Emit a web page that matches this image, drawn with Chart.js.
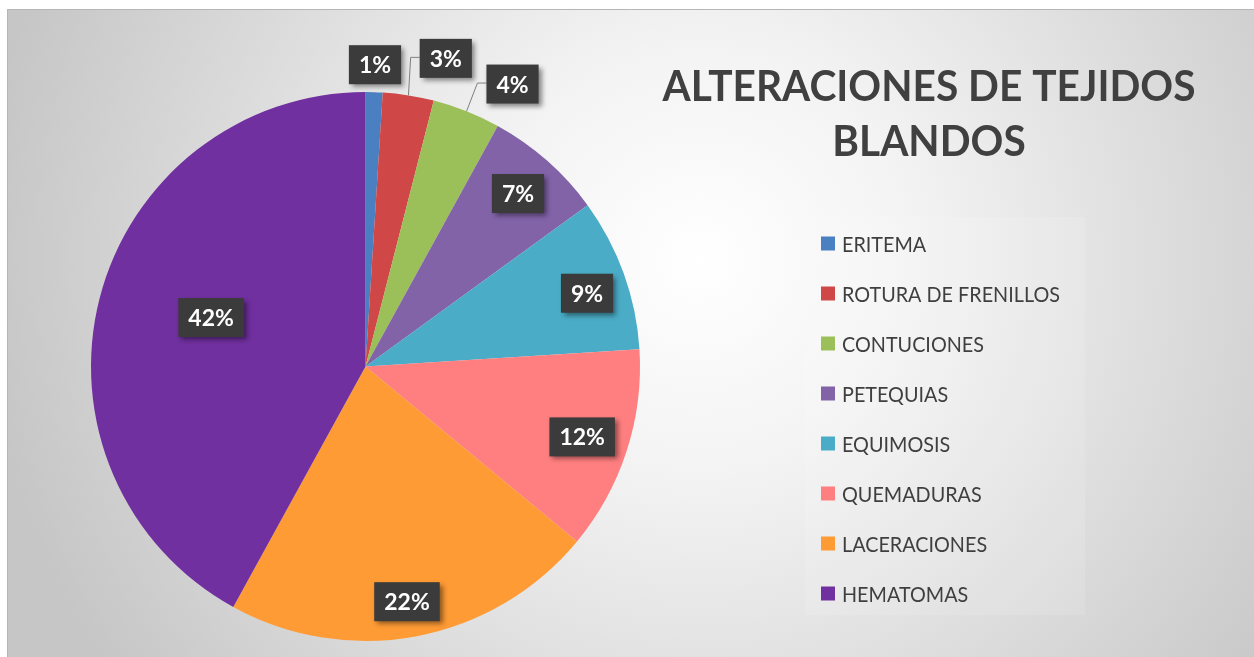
<!DOCTYPE html>
<html>
<head>
<meta charset="utf-8">
<script src="https://cdn.jsdelivr.net/npm/chart.js@4.4.1/dist/chart.umd.min.js"></script>
<style>
  html, body { margin: 0; padding: 0; background: #fff; }
  canvas { display: block; }
</style>
</head>
<body>
<canvas id="chart" width="1254" height="657"></canvas>
<script>
// data
const categories = ['ERITEMA', 'ROTURA DE FRENILLOS', 'CONTUCIONES', 'PETEQUIAS', 'EQUIMOSIS', 'QUEMADURAS', 'LACERACIONES', 'HEMATOMAS'];
const percentages = [1, 3, 4, 7, 9, 12, 22, 42];
const sliceColors = ['#4a7fc1', '#cf4747', '#9bbf59', '#8263a8', '#4aacc6', '#ff7f80', '#ff9b35', '#7030a0'];
const titleLines = ['ALTERACIONES DE TEJIDOS', 'BLANDOS'];

// scale a run of text horizontally so the reference width is matched
function drawSqueezed(ctx, text, x, y, sx, align) {
    ctx.save();
    ctx.translate(x, y);
    ctx.scale(sx, 1);
    ctx.textAlign = align;
    ctx.fillText(text, 0, 0);
    ctx.restore();
}

// Background panel
const backgroundPlugin = {
    id: 'panelBackground',
    beforeDraw(chart) {
        const ctx = chart.ctx;
        const w = chart.width, h = chart.height;
        ctx.save();
        ctx.fillStyle = '#ffffff';
        ctx.fillRect(0, 0, w, h);
        const g = ctx.createRadialGradient(700, 260, 0, 700, 260, 720);
        g.addColorStop(0, '#ffffff');
        g.addColorStop(0.3, '#f3f3f3');
        g.addColorStop(1, '#c6c6c6');
        ctx.fillStyle = g;
        ctx.fillRect(7, 9, w - 7, h - 9);
        ctx.strokeStyle = '#b5b5b5';
        ctx.lineWidth = 1;
        ctx.beginPath();
        ctx.moveTo(7.5, h);
        ctx.lineTo(7.5, 9.5);
        ctx.lineTo(w, 9.5);
        ctx.stroke();
        // faint legend panel
        ctx.fillStyle = 'rgba(255,255,255,0.12)';
        ctx.fillRect(805, 217, 280, 398);
        ctx.restore();
    }
};

// Title + legend
const titleLegendPlugin = {
    id: 'titleLegend',
    afterDraw(chart) {
        const ctx = chart.ctx;
        ctx.save();
        ctx.fillStyle = '#404040';
        ctx.textBaseline = 'alphabetic';
        ctx.font = 'bold 42px Lato';
        const tsx = 533 / ctx.measureText(titleLines[0]).width;
        drawSqueezed(ctx, titleLines[0], 929, 101, tsx, 'center');
        drawSqueezed(ctx, titleLines[1], 929, 156, tsx, 'center');

        ctx.font = '22px Lato';
        const lsx = 218 / ctx.measureText(categories[1]).width;
        const colors = chart.data.datasets[0].backgroundColor;
        chart.data.labels.forEach((label, i) => {
            const cy = 243.5 + i * 50;
            ctx.fillStyle = colors[i];
            ctx.fillRect(821, cy - 7, 14, 14);
            ctx.fillStyle = '#3f3f3f';
            drawSqueezed(ctx, label, 842, cy + 8, lsx, 'left');
        });
        ctx.restore();
    }
};

// Data labels in dark boxes
const boxLabelPlugin = {
    id: 'boxLabels',
    afterDatasetsDraw(chart) {
        const place = [
            { f: 1.10, da: 0 },
            { f: 1.16, da: 5.6, leader: true },
            { f: 1.16, da: 5.9, leader: true },
            { f: 0.84, da: 0 },
            { f: 0.85, da: 1.5 },
            { f: 0.83, da: 0 },
            { f: 0.87, da: 0.8 },
            { f: 0.59, da: 3.2 }
        ];
        const ctx = chart.ctx;
        const meta = chart.getDatasetMeta(0);
        const values = chart.data.datasets[0].data;
        ctx.save();
        ctx.font = 'bold 23px Lato';
        meta.data.forEach((arc, i) => {
            const p = arc.getProps(['x', 'y', 'startAngle', 'endAngle', 'outerRadius'], true);
            const mid = (p.startAngle + p.endAngle) / 2;
            const a = mid + place[i].da * Math.PI / 180;
            const r = p.outerRadius * place[i].f;
            const cx = p.x + Math.cos(a) * r;
            const cy = p.y + Math.sin(a) * r;
            const text = Math.round(values[i]) + '%';
            const bw = ctx.measureText(text).width + 20;
            const bh = 39;
            const left = cx - bw / 2;

            if (place[i].leader) {
                const ex = p.x + Math.cos(mid) * p.outerRadius;
                const ey = p.y + Math.sin(mid) * p.outerRadius;
                ctx.strokeStyle = '#7f7f7f';
                ctx.lineWidth = 1;
                ctx.beginPath();
                ctx.moveTo(ex, ey);
                ctx.lineTo(left - 9, cy - 1);
                ctx.lineTo(left, cy - 1);
                ctx.stroke();
            }

            ctx.save();
            ctx.shadowColor = 'rgba(0,0,0,0.45)';
            ctx.shadowBlur = 5;
            ctx.shadowOffsetX = 3;
            ctx.shadowOffsetY = 3;
            ctx.fillStyle = '#3b3b3b';
            ctx.fillRect(left, cy - bh / 2, bw, bh);
            ctx.restore();

            ctx.fillStyle = '#ffffff';
            ctx.textAlign = 'center';
            ctx.textBaseline = 'alphabetic';
            ctx.fillText(text, cx, cy + 8.5);
        });
        ctx.restore();
    }
};

new Chart(document.getElementById('chart'), {
    type: 'pie',
    data: {
        labels: categories,
        datasets: [{
            data: percentages,
            backgroundColor: sliceColors,
            borderWidth: 0
        }]
    },
    options: {
        responsive: false,
        animation: false,
        layout: {
            padding: { left: 91, top: 92, right: 614, bottom: 16 }
        },
        plugins: {
            legend: { display: false },
            tooltip: { enabled: false }
        }
    },
    plugins: [backgroundPlugin, boxLabelPlugin, titleLegendPlugin]
});
</script>
</body>
</html>
